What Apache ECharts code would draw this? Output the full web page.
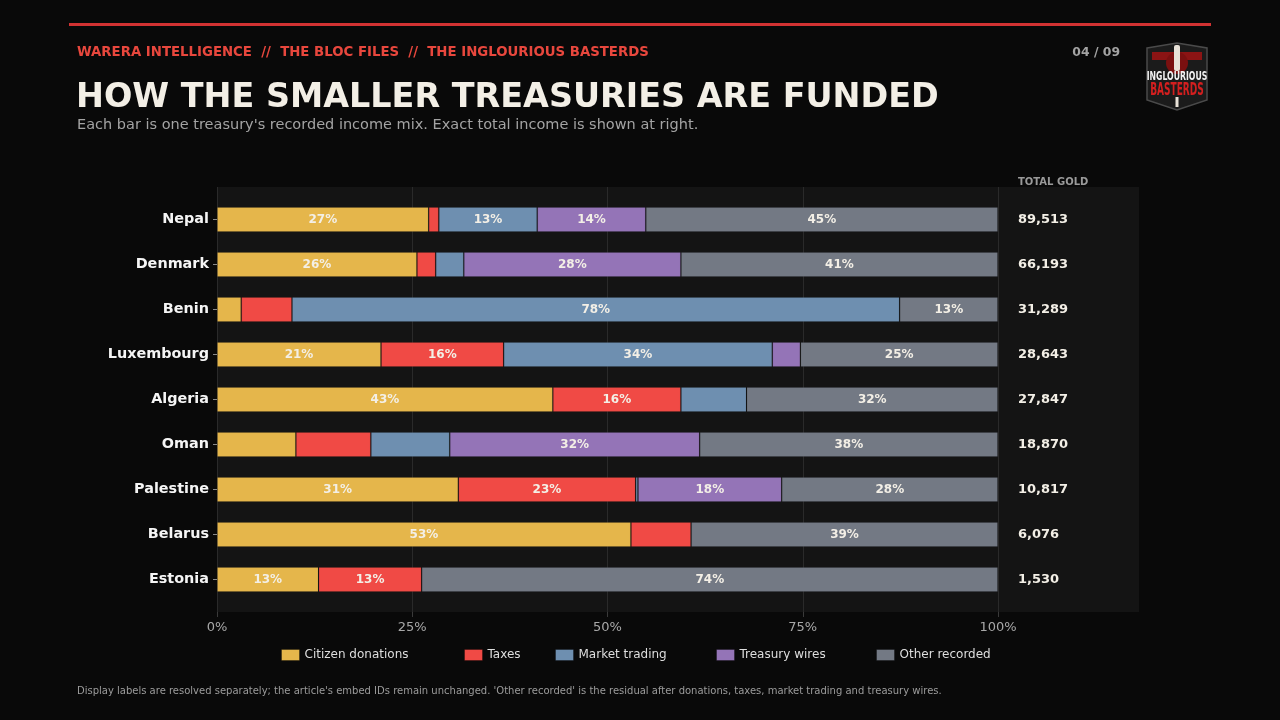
<!DOCTYPE html>
<html><head><meta charset="utf-8">
<script src="https://cdn.jsdelivr.net/npm/echarts@6/dist/echarts.min.js"></script>
<style>html,body{margin:0;padding:0;background:#090909;}#c{width:1280px;height:720px;}</style>
</head><body><div id="c"></div><script>
const categories = ['Nepal','Denmark','Benin','Luxembourg','Algeria','Oman','Palestine','Belarus','Estonia'];
const totals = [89513,66193,31289,28643,27847,18870,10817,6076,1530];
const citizenDonations = [27.1,25.6,3.1,21.0,43.0,10.1,30.9,53.0,13.0];
const taxes = [1.3,2.4,6.5,15.7,16.4,9.6,22.7,7.7,13.2];
const marketTrading = [12.6,3.6,77.8,34.4,8.4,10.1,0.3,0,0];
const treasuryWires = [13.9,27.8,0,3.6,0,32.0,18.4,0,0];
const otherRecorded = [45.1,40.6,12.6,25.3,32.2,38.2,27.7,39.3,73.8];
const seriesNames = ['Citizen donations','Taxes','Market trading','Treasury wires','Other recorded'];
const seriesColors = ['#e5b64b','#f04a45','#6e8fb0','#9474b7','#737984'];
const xTickValues = [0,25,50,75,100];
const legendLefts = [281,464,555,716,876];

const FONT = '"DejaVu Sans", sans-serif';
const seriesData = [citizenDonations, taxes, marketTrading, treasuryWires, otherRecorded];

const chart = echarts.init(document.getElementById('c'), null, {renderer:'canvas'});

const series = seriesData.map((arr, k) => ({
  name: seriesNames[k],
  type: 'bar',
  stack: 'mix',
  xAxisIndex: 1,
  yAxisIndex: 1,
  barWidth: 25,
  data: arr.map(v => v > 0 ? v : null),
  itemStyle: { color: seriesColors[k], borderColor: 'rgba(0,0,0,0.08)', borderWidth: 1 },
  label: {
    show: true,
    position: 'inside',
    color: '#f3efe6',
    fontFamily: FONT,
    fontWeight: 'bold',
    fontSize: 12,
    formatter: p => (p.value >= 11 ? Math.round(p.value) + '%' : '')
  },
  emphasis: { disabled: true }
}));

const legends = seriesNames.map((n, k) => ({
  data: [n],
  left: legendLefts[k],
  top: 649,
  padding: 0,
  itemWidth: 18,
  itemHeight: 11,
  icon: 'rect',
  itemStyle: { borderColor: 'rgba(0,0,0,0.3)', borderWidth: 1 },
  textStyle: { color: '#dedede', fontFamily: FONT, fontSize: 12 },
  selectedMode: false
}));

const option = {
  backgroundColor: '#090909',
  animation: false,
  textStyle: { fontFamily: FONT },
  grid: [
    { left: 217, right: 282, top: 187, bottom: 108 },
    { left: 217, right: 282, top: 197, bottom: 118 }
  ],
  xAxis: [
    {
      gridIndex: 0, type: 'value', min: 0, max: 100, interval: 25,
      axisLine: { show: false },
      axisTick: { show: true, length: 5, lineStyle: { color: '#3a3a3a' } },
      splitLine: { show: true, lineStyle: { color: '#2a2a2a', width: 1 } },
      axisLabel: { color: '#a8a8a8', fontSize: 13, margin: 9, fontFamily: FONT,
        formatter: v => (xTickValues.indexOf(v) >= 0 ? v + '%' : '') }
    },
    { gridIndex: 1, type: 'value', min: 0, max: 100, show: false }
  ],
  yAxis: [
    { gridIndex: 0, type: 'value', show: false },
    {
      gridIndex: 1, type: 'category', inverse: true, data: categories,
      axisLine: { show: false },
      axisTick: { show: true, alignWithLabel: true, length: 4, lineStyle: { color: '#8a8a8a' } },
      axisLabel: { color: '#f5f5f5', fontWeight: 'bold', fontSize: 14.4, margin: 8, fontFamily: FONT }
    },
    {
      gridIndex: 1, type: 'category', inverse: true, position: 'right', data: categories,
      axisLine: { show: false }, axisTick: { show: false },
      axisLabel: { color: '#f3efe6', fontWeight: 'bold', fontSize: 13, margin: 20, align: 'left', fontFamily: FONT,
        formatter: (v, i) => totals[i].toLocaleString('en-US') }
    }
  ],
  legend: legends,
  series: series,
  graphic: [
    { type: 'rect', z: -10, shape: { x: 217, y: 187, width: 922, height: 425 }, style: { fill: '#141414' } },
    { type: 'rect', shape: { x: 69, y: 23, width: 1142, height: 3 }, style: { fill: '#d13232' } },
    { type: 'text', style: { x: 77, y: 53, text: 'WARERA INTELLIGENCE  //  THE BLOC FILES  //  THE INGLOURIOUS BASTERDS', fill: '#e8473d', font: 'bold 13.3px ' + FONT, textVerticalAlign: 'middle' } },
    { type: 'text', style: { x: 1120, y: 53, text: '04 / 09', fill: '#a3a3a3', font: 'bold 12.4px ' + FONT, textAlign: 'right', textVerticalAlign: 'middle' } },
    { type: 'text', style: { x: 76, y: 98, text: 'HOW THE SMALLER TREASURIES ARE FUNDED', fill: '#f3efe6', font: 'bold 33.4px ' + FONT, textVerticalAlign: 'middle' } },
    { type: 'text', style: { x: 77, y: 125, text: "Each bar is one treasury's recorded income mix. Exact total income is shown at right.", fill: '#a3a3a3', font: '14.5px ' + FONT, textVerticalAlign: 'middle' } },
    { type: 'text', style: { x: 1018, y: 182, text: 'TOTAL GOLD', fill: '#9a9a9a', font: 'bold 10px ' + FONT, textVerticalAlign: 'middle' } },
    { type: 'text', style: { x: 77, y: 691, text: "Display labels are resolved separately; the article's embed IDs remain unchanged. 'Other recorded' is the residual after donations, taxes, market trading and treasury wires.", fill: '#9c9c9c', font: '10px ' + FONT, textVerticalAlign: 'middle' } },
    // logo
    { type: 'polygon', shape: { points: [[1147,48],[1177,43],[1207,48],[1207,100],[1177,110],[1147,100]] }, style: { fill: '#1b1b1b', stroke: '#4a4a4a', lineWidth: 1.5 } },
    { type: 'rect', shape: { x: 1152, y: 52, width: 50, height: 8 }, style: { fill: '#8b1414' } },
    { type: 'circle', shape: { cx: 1177, cy: 63, r: 11 }, style: { fill: '#7a1010' } },
    { type: 'rect', shape: { x: 1174, y: 45, width: 6, height: 26, r: 2 }, style: { fill: '#e8e2d8' } },
    { type: 'rect', shape: { x: 1175.5, y: 97, width: 3, height: 10 }, style: { fill: '#e8e2d8' } },
    { type: 'text', x: 1177, y: 77, scaleX: 0.62, style: { x: 0, y: 0, text: 'INGLOURIOUS', fill: '#f2f2f2', font: 'bold 12.5px ' + FONT, textAlign: 'center', textVerticalAlign: 'middle' } },
    { type: 'text', x: 1177, y: 90.5, scaleX: 0.53, style: { x: 0, y: 0, text: 'BASTERDS', fill: '#d41f1f', font: 'bold 17px ' + FONT, textAlign: 'center', textVerticalAlign: 'middle' } }
  ]
};
chart.setOption(option);
</script></body></html>
